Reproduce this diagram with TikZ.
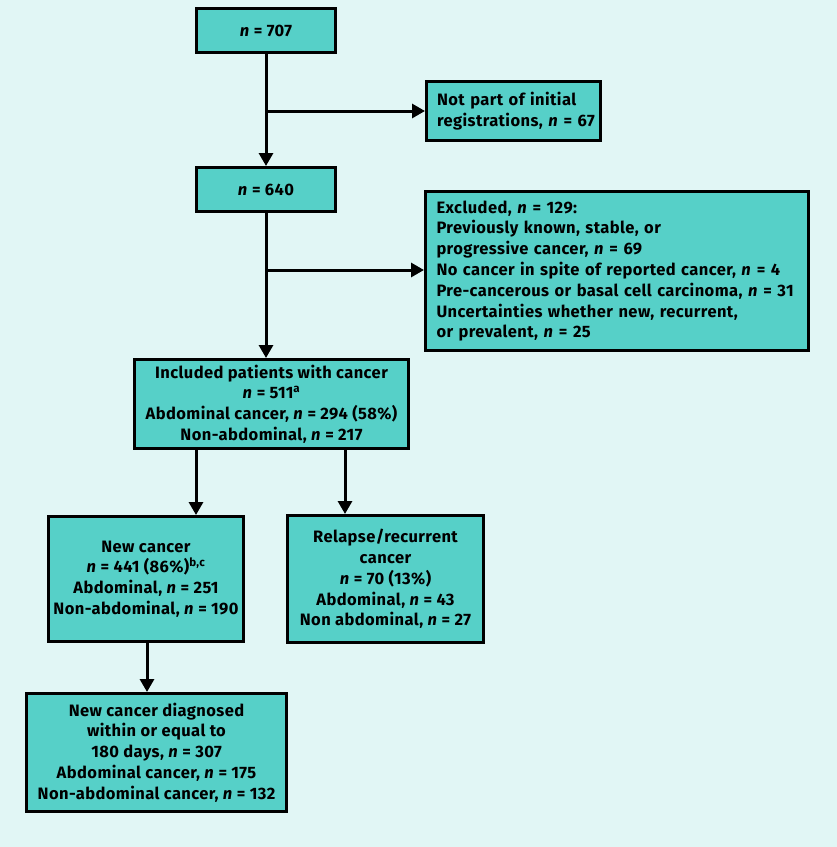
\documentclass[tikz,border=0pt]{standalone}
\usepackage{fontspec}
\setmainfont[LetterSpace=2.5]{Fira Sans}
\usetikzlibrary{arrows.meta}
\definecolor{bgc}{HTML}{E1F6F5}
\definecolor{boxc}{HTML}{56D0C8}
\begin{document}
\begin{tikzpicture}[x=1pt,y=-1pt,
  box/.style={draw=black, line width=3pt, fill=boxc, inner sep=0pt, font=\fontsize{16.5}{20.8}\selectfont\bfseries},
  arr/.style={line width=3pt, -{Triangle[length=13pt,width=14pt]}}]
\fill[bgc] (0,0) rectangle (837,847);
\useasboundingbox (0,0) rectangle (837,847);
\node[box, minimum width=139pt, minimum height=44pt] (a) at (266,30.5) {\textit{n} = 707};
\node[box, minimum height=59pt, text width=153pt, inner xsep=10.5pt, align=left] (b) at (513.5,111) {\mbox{Not part of initial}\\\mbox{registrations, \textit{n} = 67}};
\node[box, minimum width=139pt, minimum height=44pt] (c) at (266,189.5) {\textit{n} = 640};
\node[box, minimum height=159pt, text width=361pt, inner xsep=11pt, align=left] (d) at (617,271) {\mbox{Excluded, \textit{n} = 129:}\\\mbox{Previously known, stable, or}\\\mbox{progressive cancer, \textit{n} = 69}\\\mbox{No cancer in spite of reported cancer, \textit{n} = 4}\\\mbox{Pre-cancerous or basal cell carcinoma, \textit{n} = 31}\\\mbox{Uncertainties whether new, recurrent,}\\\mbox{or prevalent, \textit{n} = 25}};
\node[box, minimum width=274pt, minimum height=89pt, align=center] (e) at (271.5,404) {Included patients with cancer\\\textit{n} = 511\textsuperscript{a}\\Abdominal cancer, \textit{n} = 294 (58\%)\\Non-abdominal, \textit{n} = 217};
\node[box, minimum width=195pt, minimum height=125pt, align=center] (f) at (146,579) {New cancer\\\textit{n} = 441 (86\%)\textsuperscript{b,c}\\Abdominal, \textit{n} = 251\\Non-abdominal, \textit{n} = 190};
\node[box, minimum width=196pt, minimum height=127pt, align=center] (g) at (385.5,579) {Relapse/recurrent\\cancer\\\textit{n} = 70 (13\%)\\Abdominal, \textit{n} = 43\\Non abdominal, \textit{n} = 27};
\node[box, minimum width=260pt, minimum height=118pt, align=center] (h) at (156.5,752.5) {New cancer diagnosed\\within or equal to\\180 days, \textit{n} = 307\\Abdominal cancer, \textit{n} = 175\\Non-abdominal cancer, \textit{n} = 132};
\coordinate (j1) at (266,111);
\coordinate (j2) at (266,270);
\coordinate (x1) at (196,0);
\coordinate (x2) at (345,0);
\coordinate (x3) at (147,0);
\draw[arr] (a.south) -- (c.north);
\draw[arr] (j1) -- (b.west |- j1);
\draw[arr] (c.south) -- (e.north -| c.south);
\draw[arr] (j2) -- (d.west |- j2);
\draw[arr] (e.south -| x1) -- (f.north -| x1);
\draw[arr] (e.south -| x2) -- (g.north -| x2);
\draw[arr] (f.south -| x3) -- (h.north -| x3);
\end{tikzpicture}
\end{document}
